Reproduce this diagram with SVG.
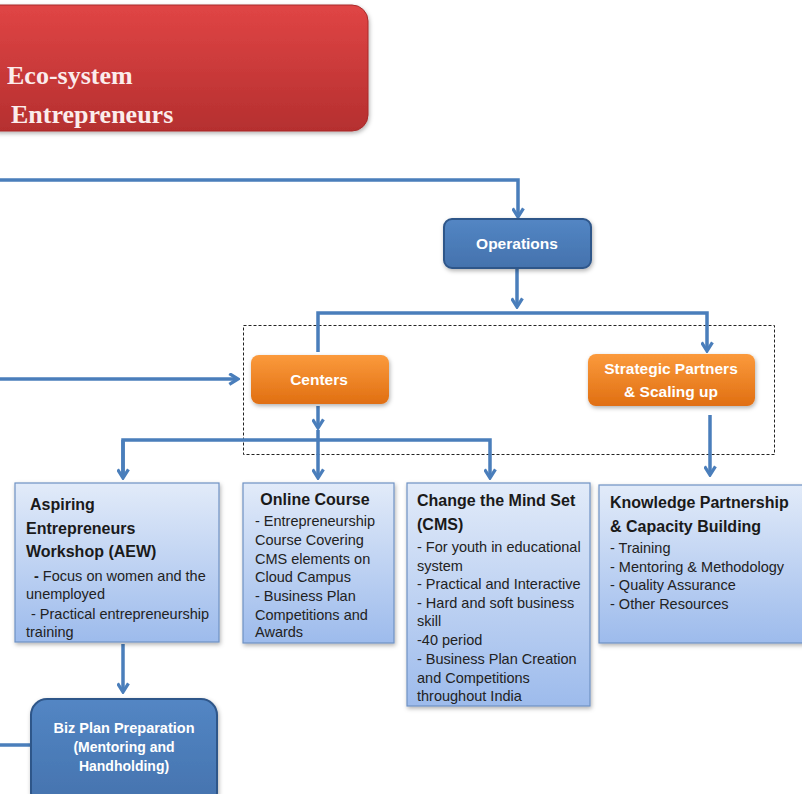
<svg xmlns="http://www.w3.org/2000/svg" width="802" height="794" viewBox="0 0 802 794">
<defs>
<linearGradient id="gRed" x1="0" y1="0" x2="0" y2="1"><stop offset="0" stop-color="#e04545"/><stop offset="1" stop-color="#b52f2f"/></linearGradient>
<linearGradient id="gOr" x1="0" y1="0" x2="0" y2="1"><stop offset="0" stop-color="#fb9a3c"/><stop offset="1" stop-color="#e06f12"/></linearGradient>
<linearGradient id="gBlue" x1="0" y1="0" x2="0" y2="1"><stop offset="0" stop-color="#5386c4"/><stop offset="1" stop-color="#4472ad"/></linearGradient>
<linearGradient id="gLight" x1="0" y1="0" x2="0" y2="1"><stop offset="0" stop-color="#e2ebf9"/><stop offset="1" stop-color="#9dbbec"/></linearGradient>
<filter id="sh" x="-10%" y="-10%" width="125%" height="130%"><feDropShadow dx="1" dy="2" stdDeviation="2" flood-color="#000" flood-opacity="0.3"/></filter>
<marker id="ah" viewBox="0 0 12 12" refX="10" refY="6" markerWidth="13" markerHeight="13" markerUnits="userSpaceOnUse" orient="auto">
<path d="M2,1 L10,6 L2,11" fill="none" stroke="#4a7ebb" stroke-width="3" stroke-linejoin="miter"/>
</marker>
</defs>
<style>
.ln{fill:none;stroke:#4a7ebb;stroke-width:3.5}
.t{font-family:"Liberation Sans",Arial,sans-serif;fill:#222;font-size:14.5px}
.h{font-family:"Liberation Sans",Arial,sans-serif;fill:#1a1a1a;font-size:16px;font-weight:bold}
.w{font-family:"Liberation Sans",Arial,sans-serif;fill:#ffffff;font-weight:bold;font-size:15.5px}
.lb{fill:url(#gLight);stroke:#6f92c4;stroke-width:1.2}
</style>
<rect x="243.5" y="325.5" width="531" height="129" fill="none" stroke="#222" stroke-width="1" stroke-dasharray="3,2"/>
<g id="connectors">
<path class="ln" d="M0,180 H518 V217" marker-end="url(#ah)"/>
<path class="ln" d="M517,268 V307" marker-end="url(#ah)"/>
<path class="ln" d="M318,352 V313 H707 V351" marker-end="url(#ah)"/>
<path class="ln" d="M0,379 H238" marker-end="url(#ah)"/>
<path class="ln" d="M318,406 V428" marker-end="url(#ah)"/>
<path class="ln" d="M318,430 V478" marker-end="url(#ah)"/>
<path class="ln" d="M123,478 V440 H490 V478" marker-end="url(#ah)"/>
<path class="ln" d="M123,440 V478" marker-end="url(#ah)"/>
<path class="ln" d="M710,415 V475" marker-end="url(#ah)"/>
<path class="ln" d="M123,644 V692" marker-end="url(#ah)"/>
<path class="ln" d="M0,745 H31"/>
</g>
<g id="eco">
<rect x="-20" y="5" width="388" height="126" rx="16" fill="url(#gRed)" stroke="#a82a2a" stroke-width="1" filter="url(#sh)"/>
<text x="7" y="84" font-family="'Liberation Serif','DejaVu Serif',serif" font-weight="bold" font-size="26" fill="#fbecec">Eco-system</text>
<text x="11" y="123" font-family="'Liberation Serif','DejaVu Serif',serif" font-weight="bold" font-size="26" fill="#fbecec">Entrepreneurs</text>
</g>
<g id="operations">
<rect x="444" y="219" width="147" height="49" rx="8" fill="url(#gBlue)" stroke="#2f5689" stroke-width="2" filter="url(#sh)"/>
<text class="w" x="517" y="249" text-anchor="middle">Operations</text>
</g>
<g id="centers">
<rect x="251" y="355" width="138" height="49" rx="8" fill="url(#gOr)" filter="url(#sh)"/>
<text class="w" x="319" y="385" text-anchor="middle">Centers</text>
</g>
<g id="strategic">
<rect x="588" y="354" width="167" height="52" rx="8" fill="url(#gOr)" filter="url(#sh)"/>
<text class="w" x="671" y="374" text-anchor="middle">Strategic Partners</text>
<text class="w" x="671" y="397" text-anchor="middle">&amp;  Scaling up</text>
</g>
<g id="aew">
<rect class="lb" x="15" y="483" width="204" height="159" filter="url(#sh)"/>
<text class="h" x="30" y="510">Aspiring</text>
<text class="h" x="26" y="534">Entrepreneurs</text>
<text class="h" x="26" y="557">Workshop (AEW)</text>
<text class="t" x="34" y="581"><tspan font-weight="bold">-</tspan> Focus on women and the</text>
<text class="t" x="26" y="599">unemployed</text>
<text class="t" x="31" y="619">- Practical entrepreneurship</text>
<text class="t" x="26" y="637">training</text>
</g>
<g id="online">
<rect class="lb" x="243" y="483" width="151" height="160" filter="url(#sh)"/>
<text class="h" x="315" y="505" text-anchor="middle">Online Course</text>
<text class="t" x="255" y="526">- Entrepreneurship</text>
<text class="t" x="255" y="545">Course Covering</text>
<text class="t" x="255" y="564">CMS elements on</text>
<text class="t" x="255" y="582">Cloud Campus</text>
<text class="t" x="255" y="601">- Business Plan</text>
<text class="t" x="255" y="620">Competitions and</text>
<text class="t" x="255" y="637">Awards</text>
</g>
<g id="cms">
<rect class="lb" x="407" y="483" width="183" height="223" filter="url(#sh)"/>
<text class="h" x="417" y="506">Change the Mind Set</text>
<text class="h" x="417" y="530">(CMS)</text>
<text class="t" x="417" y="552">- For youth in educational</text>
<text class="t" x="417" y="571">system</text>
<text class="t" x="417" y="589">- Practical and Interactive</text>
<text class="t" x="417" y="608">- Hard and soft business</text>
<text class="t" x="417" y="626">skill</text>
<text class="t" x="417" y="645">-40 period</text>
<text class="t" x="417" y="664">- Business Plan Creation</text>
<text class="t" x="417" y="683">and Competitions</text>
<text class="t" x="417" y="701">throughout India</text>
</g>
<g id="knowledge">
<rect class="lb" x="599" y="485" width="215" height="158" filter="url(#sh)"/>
<text class="h" x="610" y="508">Knowledge Partnership</text>
<text class="h" x="610" y="532">&amp; Capacity Building</text>
<text class="t" x="610" y="553">- Training</text>
<text class="t" x="610" y="572">- Mentoring &amp; Methodology</text>
<text class="t" x="610" y="590">- Quality Assurance</text>
<text class="t" x="610" y="609">- Other Resources</text>
</g>
<g id="bizplan">
<rect x="31" y="699" width="186" height="110" rx="16" fill="url(#gBlue)" stroke="#2f5689" stroke-width="2" filter="url(#sh)"/>
<text class="w" x="124" y="733" text-anchor="middle" style="font-size:14.5px">Biz Plan Preparation</text>
<text class="w" x="124" y="752" text-anchor="middle" style="font-size:14px">(Mentoring and</text>
<text class="w" x="124" y="771" text-anchor="middle" style="font-size:14px">Handholding)</text>
</g>
</svg>
